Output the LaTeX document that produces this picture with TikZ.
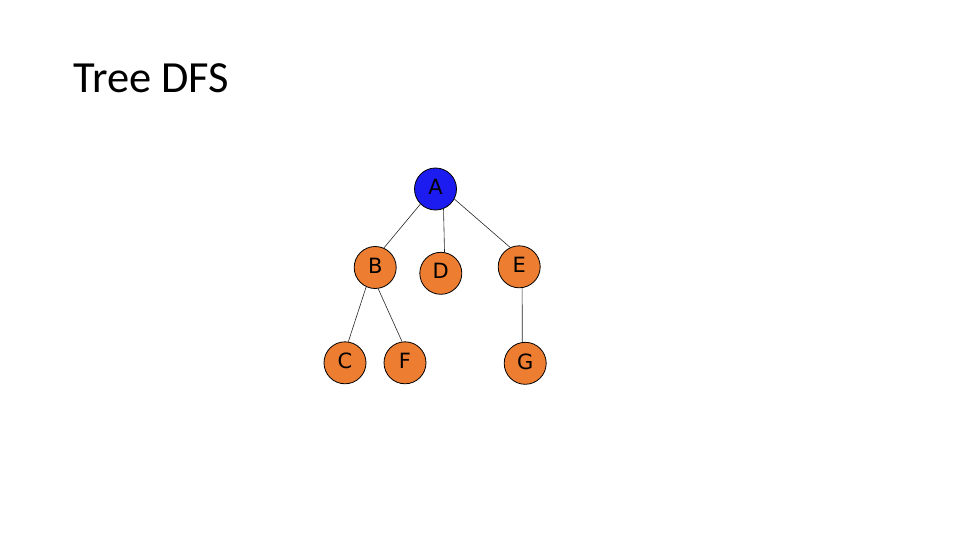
\documentclass[tikz,border=0pt]{standalone}
\usepackage{fontspec}
\setmainfont{Carlito}
\newfontfamily\nodefont{DejaVu Sans}
\definecolor{nodeorange}{RGB}{237,125,49}
\definecolor{nodeblue}{RGB}{28,28,240}
\tikzset{
  treenode/.style={circle, draw=black, line width=0.8pt, fill=nodeorange,
    minimum size=42pt, inner sep=0pt, text depth=4pt,
    font=\nodefont\fontsize{21}{21}\selectfont},
  rootnode/.style={treenode, fill=nodeblue},
  edge/.style={draw=black!85, line width=0.6pt}
}
\begin{document}
\begin{tikzpicture}[x=1pt,y=-1pt]
\useasboundingbox (0,0) rectangle (960,540);
\node[anchor=base west, inner sep=0pt, font=\fontsize{44.5}{44.5}\selectfont] (title) at (73,93) {Tree DFS};
\node[rootnode] (A) at (435.5,189) {A};
\node[treenode] (B) at (375.2,267.5) {B};
\node[treenode] (D) at (440.8,273.3) {D};
\node[treenode] (E) at (519.2,266.8) {E};
\node[treenode] (C) at (345,362.8) {C};
\node[treenode] (F) at (405,362.8) {F};
\node[treenode] (G) at (525.2,363.3) {G};
\draw[edge] (A.225.8) -- (B.66.5);
\draw[edge] (A.292.7) -- (D.80.4);
\draw[edge] (A.332.6) -- (E.115.3);
\draw[edge] (B.245.5) -- (C.81);
\draw[edge] (B.278.5) -- (F.98.9);
\draw[edge] (E.278.6) -- (G.98);
\end{tikzpicture}
\end{document}
